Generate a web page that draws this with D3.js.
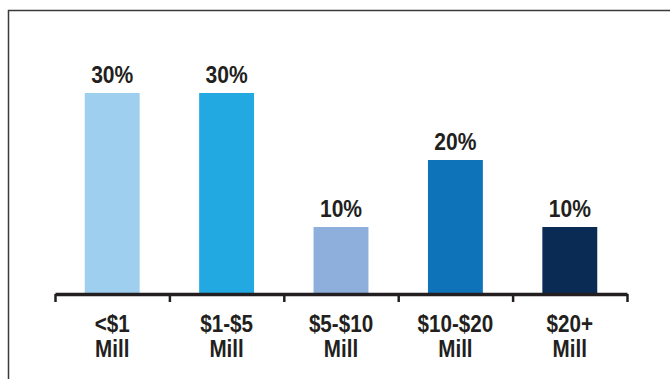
<!DOCTYPE html>
<html>
<head>
<meta charset="utf-8">
<script src="https://cdn.jsdelivr.net/npm/d3@7"></script>
<style>
  html, body { margin: 0; padding: 0; background: #fff; }
  svg { display: block; }
  .lbl { font-family: "Liberation Sans", Arial, sans-serif; font-weight: bold; fill: #231f20; }
</style>
</head>
<body>
<svg id="chart" width="670" height="379"></svg>
<script>
// Share of respondents by revenue bracket
const categories = ["<$1|Mill", "$1-$5|Mill", "$5-$10|Mill", "$10-$20|Mill", "$20+|Mill"];
const values = [30, 30, 10, 20, 10];
const colors = ["#9fcfee", "#23a9e1", "#8eaedb", "#0f73ba", "#0a2b54"];

const svg = d3.select("#chart");
const W = 670, H = 379;
const plotLeft = 55, plotRight = 627, plotBase = 294, plotTop = 93;
const condense = 0.86; // horizontal squeeze for the condensed label face

// outer frame (top and left edges)
svg.append("path")
  .attr("d", `M8.5,${H} L8.5,10.5 L${W},10.5`)
  .attr("fill", "none")
  .attr("stroke", "#3a3a3a")
  .attr("stroke-width", 1.5);

const x = d3.scaleBand().domain(categories).range([plotLeft, plotRight]).padding(0);
const y = d3.scaleLinear().domain([0, 30]).range([plotBase, plotTop]);
const barW = x.bandwidth() * 0.48;
const cx = c => x(c) + x.bandwidth() / 2;

const g = svg.append("g");

g.selectAll("rect.bar")
  .data(values)
  .join("rect")
  .attr("class", "bar")
  .attr("x", (d, i) => x(categories[i]) + (x.bandwidth() - barW) / 2)
  .attr("y", d => y(d))
  .attr("width", barW)
  .attr("height", d => y(0) - y(d))
  .attr("fill", (d, i) => colors[i]);

// value labels
g.selectAll("text.val")
  .data(values)
  .join("text")
  .attr("class", "lbl val")
  .attr("transform", (d, i) => `translate(${cx(categories[i])},${y(d) - 10}) scale(${condense},1)`)
  .attr("text-anchor", "middle")
  .attr("font-size", 24.5)
  .text(d => d + "%");

// axis with ticks at band boundaries
const xb = d3.scaleLinear().domain([0, categories.length]).range([plotLeft, plotRight]);
const axis = d3.axisBottom(xb)
  .tickValues(d3.range(categories.length + 1))
  .tickFormat("")
  .tickSize(8)
  .tickSizeOuter(0);
const ax = svg.append("g").attr("transform", `translate(0,${plotBase})`).call(axis);
ax.select(".domain").attr("stroke", "#231f20").attr("stroke-width", 3.5);
ax.selectAll(".tick line").attr("stroke", "#231f20").attr("stroke-width", 2.5);

// category labels, two lines each
categories.forEach(c => {
  c.split("|").forEach((line, j) => {
    svg.append("text")
      .attr("class", "lbl cat")
      .attr("text-anchor", "middle")
      .attr("font-size", 24)
      .attr("transform", `translate(${cx(c)},${332 + j * 25}) scale(${condense},1)`)
      .text(line);
  });
});
</script>
</body>
</html>
